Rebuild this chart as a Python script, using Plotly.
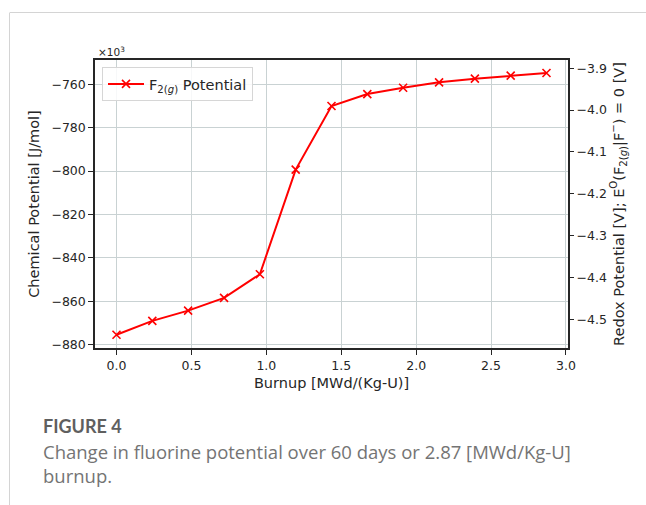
import plotly.graph_objects as go

# Burnup steps (every 5 days over 60 days) and chemical potential of F2(g)
burnup = [0.0, 0.239, 0.478, 0.718, 0.957, 1.196, 1.435, 1.674, 1.913, 2.153, 2.392, 2.631, 2.87]
chem_potential_kj = [-875.4, -869.0, -864.3, -858.4, -847.5, -799.3, -770.0,
                     -764.5, -761.6, -759.1, -757.4, -756.0, -754.8]

x_ticks = [0.0, 0.5, 1.0, 1.5, 2.0, 2.5, 3.0]
y_ticks = [-880, -860, -840, -820, -800, -780, -760]
y2_ticks = [-4.5, -4.4, -4.3, -4.2, -4.1, -4.0, -3.9]

FARADAY = 96485.33
N_ELECTRONS = 2
# redox potential E = mu / (nF); mu in J/mol
redox_v = [mu * 1000.0 / (N_ELECTRONS * FARADAY) for mu in chem_potential_kj]

W, H = 646, 505
ML, MR, MT, MB = 95, 78, 60, 157
PW, PH = W - ML - MR, H - MT - MB


def px_x(px):
    return (px - ML) / PW


def px_y(py):
    return (H - MB - py) / PH


y_range = [-881.5, -748.8]
y2_range = [v * 1000.0 / (N_ELECTRONS * FARADAY) for v in y_range]

AX_FONT = "DejaVu Sans"
AX_COLOR = "#262626"
GRID = "#c9d2d3"

fig = go.Figure()
fig.add_trace(go.Scatter(
    x=burnup, y=chem_potential_kj, mode="lines+markers",
    name="F<sub>2(<i>g</i>)</sub> Potential",
    line=dict(color="#ff0000", width=2),
    marker=dict(symbol="x-thin", size=8, line=dict(color="#ff0000", width=1.6)),
))
fig.add_trace(go.Scatter(
    x=burnup, y=redox_v, yaxis="y2", mode="lines",
    line=dict(color="rgba(0,0,0,0)", width=0), showlegend=False, hoverinfo="skip",
))

fig.update_layout(
    width=W, height=H,
    margin=dict(l=ML, r=MR, t=MT, b=MB, pad=0),
    paper_bgcolor="white", plot_bgcolor="white",
    font=dict(family=AX_FONT, color=AX_COLOR, size=12),
    xaxis=dict(
        range=[-0.1435, 3.0135], tickvals=x_ticks, ticktext=[f"{v:.1f}" for v in x_ticks],
        showgrid=True, gridcolor=GRID, gridwidth=1, zeroline=False,
        showline=True, mirror=True, linecolor=AX_COLOR, linewidth=1.5,
        ticks="outside", ticklen=5, tickcolor=AX_COLOR, tickwidth=1,
        tickfont=dict(size=12.5),
        title=dict(text="Burnup [MWd/(Kg-U)]", font=dict(size=14.5), standoff=6),
    ),
    yaxis=dict(
        range=y_range, tickvals=y_ticks, ticktext=[f"\u2212{abs(v)}" for v in y_ticks],
        showgrid=True, gridcolor=GRID, gridwidth=1, zeroline=False,
        showline=True, mirror=True, linecolor=AX_COLOR, linewidth=1.5,
        ticks="outside", ticklen=5, tickcolor=AX_COLOR, tickwidth=1,
        tickfont=dict(size=12.5),
        title=dict(text="Chemical Potential [J/mol]", font=dict(size=14.5), standoff=8),
    ),
    yaxis2=dict(
        range=y2_range, overlaying="y", side="right",
        tickvals=y2_ticks, ticktext=[f"\u2212{abs(v):.1f}" for v in y2_ticks],
        showgrid=False, zeroline=False, showline=False,
        ticks="outside", ticklen=5, tickcolor=AX_COLOR, tickwidth=1,
        tickfont=dict(size=12.5),
        title=dict(text="Redox Potential [V]; E<sup>O</sup>(F<sub>2(<i>g</i>)</sub>|F<sup>\u2212</sup>) = 0 [V]",
                   font=dict(size=14.5), standoff=7),
    ),
    legend=dict(
        x=px_x(102), y=px_y(67), xanchor="left", yanchor="top",
        bgcolor="rgba(255,255,255,0.85)", bordercolor="#d6d6d6", borderwidth=1,
        font=dict(family=AX_FONT, size=14.5, color=AX_COLOR),
        itemwidth=36,
    ),
    showlegend=True,
)

# offset label for the left axis
fig.add_annotation(
    text="\u00d710<sup>3</sup>", xref="paper", yref="paper",
    x=px_x(96), y=px_y(51.5), xanchor="left", yanchor="middle",
    showarrow=False, font=dict(family=AX_FONT, size=10.5, color=AX_COLOR),
)

# figure caption
fig.add_annotation(
    text="<b>FIGURE 4</b>", xref="paper", yref="paper",
    x=px_x(41), y=px_y(425.5), xanchor="left", yanchor="middle",
    showarrow=False, font=dict(family="Lato", size=18, color="#5f5f5f"),
)
fig.add_annotation(
    text="Change in fluorine potential over 60 days or 2.87 [MWd/Kg-U]<br>burnup.",
    xref="paper", yref="paper", align="left",
    x=px_x(41), y=px_y(437), xanchor="left", yanchor="top",
    showarrow=False, font=dict(family="Open Sans", size=18.5, color="#747474"),
)

# page frame lines
frame = dict(color="#d4d4d4", width=1)
fig.add_shape(type="line", xref="paper", yref="paper",
              x0=px_x(10), x1=px_x(W), y0=px_y(12.5), y1=px_y(12.5), line=frame)
fig.add_shape(type="line", xref="paper", yref="paper",
              x0=px_x(9.5), x1=px_x(9.5), y0=px_y(12.5), y1=px_y(H), line=frame)

fig.write_html("out.html")
